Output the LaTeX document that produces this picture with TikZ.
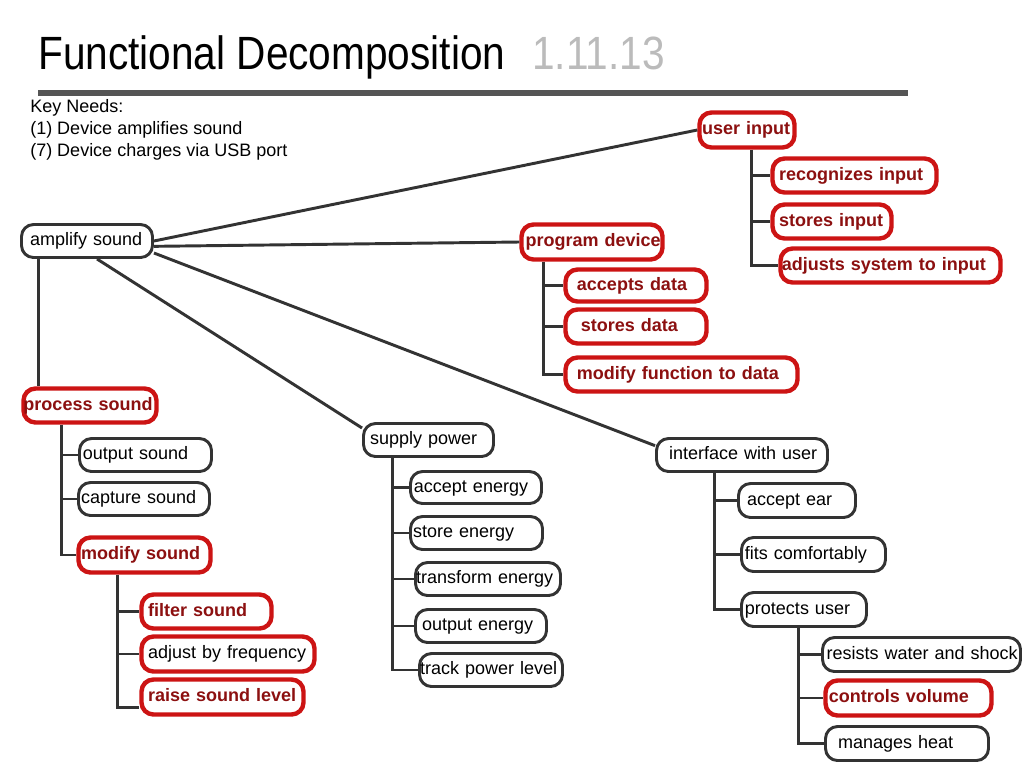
\documentclass[tikz,border=0pt]{standalone}
\usepackage{fontspec}
\usepackage{graphicx}
\setmainfont{Liberation Sans}
\usetikzlibrary{calc}

\definecolor{linegray}{HTML}{333333}
\definecolor{keyred}{HTML}{CC1414}
\definecolor{textred}{HTML}{8C1010}
\definecolor{bargray}{HTML}{555555}
\definecolor{vergray}{HTML}{BBBBBB}
\newcommand\fnfont{\fontsize{13.5}{16}\selectfont}
\hyphenpenalty=10000
\exhyphenpenalty=10000

\tikzset{
  fn/.style={draw=linegray, line width=2.2pt, rounded corners=9pt, fill=white,
    align=left, font=\fnfont, text height=10pt, text depth=3pt},
  key/.style={fn, draw=keyred, line width=3.3pt},
  keytext/.style={text=textred, font=\fnfont\bfseries},
  link/.style={draw=linegray, line width=2.2pt},
  needs/.style={anchor=base west, inner sep=0pt, font=\fnfont},
}

\begin{document}
\begin{tikzpicture}[x=0.75pt, y=-0.75pt]
\useasboundingbox (0,0) rectangle (1024,768);
% Title and bar
\node[anchor=base west, inner sep=0pt, font=\fontsize{35}{42}\selectfont] (title) at (38,69) {\scalebox{0.87}[1]{Functional Decomposition}};
\node[anchor=base west, inner sep=0pt, font=\fontsize{35}{42}\selectfont, text=vergray] (version) at (532,69) {\scalebox{0.87}[1]{1.11.13}};
\fill[bargray] (38,90) rectangle (908,96);
% Key needs
\node[needs] (key1) at (30,112) {Key Needs:};
\node[needs] (key2) at (30,134) {(1) Device amplifies sound};
\node[needs] (key3) at (30,156) {(7) Device charges via USB port};

% Root
\node[fn, minimum height=24.75pt, inner xsep=6.4pt, text width=85.45pt] (amp) at (87,241) {amplify~sound};

% User input branch
\node[key, keytext, minimum height=26.25pt, inner xsep=2pt, text width=67.25pt] (usr) at (747,130) {user~input};
\node[key, keytext, minimum height=25.5pt, inner xsep=4.9pt, text width=113.2pt] (rec) at (854.5,175.5) {recognizes~input};
\node[key, keytext, minimum height=25.5pt, inner xsep=4.9pt, text width=79.45pt] (sti) at (832,221.5) {stores~input};
\node[key, keytext, minimum height=25.5pt, inner xsep=1pt, text width=163pt] (adj) at (890.5,265.5) {adjusts~system~to~input};

% Program device branch
\node[key, keytext, minimum height=26.25pt, inner xsep=3pt, text width=99.75pt] (prg) at (592,242) {program~device};
\node[key, keytext, minimum height=24pt, inner xsep=8.6pt, text width=88.55pt] (acc) at (636,285.5) {accepts~data};
\node[key, keytext, minimum height=25.5pt, inner xsep=11.6pt, text width=82.55pt] (std) at (636,326.5) {stores~data};
\node[key, keytext, minimum height=25.5pt, inner xsep=8.6pt, text width=156.8pt] (mfd) at (681.5,374.5) {modify~function~to~data};

% Process sound branch
\node[key, keytext, minimum height=25.5pt, inner xsep=0pt, text width=99.75pt] (prc) at (90,405.5) {process~sound};
\node[fn, minimum height=24.75pt, inner xsep=2.6pt, text width=93.8pt] (ous) at (145.5,455) {output~sound};
\node[fn, minimum height=24.75pt, inner xsep=1.9pt, text width=94.45pt] (cap) at (144,499) {capture~sound};
\node[key, keytext, minimum height=26.25pt, inner xsep=1.9pt, text width=95.2pt] (mds) at (144.5,555) {modify~sound};
\node[key, keytext, minimum height=25.5pt, inner xsep=4.9pt, text width=87.7pt] (fil) at (206.5,611.5) {filter~sound};
\node[key, minimum height=26.25pt, inner xsep=4.9pt, text width=119.95pt] (abf) at (228,654) {adjust~by~frequency};
\node[key, keytext, minimum height=26.25pt, inner xsep=4.9pt, text width=111.7pt] (rsl) at (222.5,697) {raise~sound~level};

% Supply power branch
\node[fn, minimum height=24.75pt, inner xsep=4.9pt, text width=87.7pt] (sup) at (428.5,440) {supply~power};
\node[fn, minimum height=24pt, inner xsep=2.6pt, text width=93.05pt] (ace) at (476,487.5) {accept~energy};
\node[fn, minimum height=24.75pt, inner xsep=1.9pt, text width=95.2pt] (ste) at (476.5,533) {store~energy};
\node[fn, minimum height=24.75pt, inner xsep=0.5pt, text width=107.75pt] (tre) at (488,579) {transform~energy};
\node[fn, minimum height=24.75pt, inner xsep=4.9pt, text width=88.45pt] (oue) at (481,626) {output~energy};
\node[fn, minimum height=24.75pt, inner xsep=0.5pt, text width=106.25pt] (tpl) at (491,670) {track~power~level};

% Interface branch
\node[fn, minimum height=24.75pt, inner xsep=9.4pt, text width=109.45pt] (ifu) at (742,455) {interface~with~user};
\node[fn, minimum height=25.5pt, inner xsep=6.4pt, text width=74.95pt] (aer) at (797,500.5) {accept~ear};
\node[fn, minimum height=25.5pt, inner xsep=2.6pt, text width=102.8pt] (fit) at (813.5,554.5) {fits~comfortably};
\node[fn, minimum height=25.5pt, inner xsep=2.6pt, text width=88.55pt] (pru) at (804,609.5) {protects~user};
\node[fn, minimum height=25.5pt, inner xsep=3pt, text width=142.5pt] (rws) at (921.5,654.5) {resists~water~and~shock};
\node[key, keytext, minimum height=26.25pt, inner xsep=2.6pt, text width=119.3pt] (cvo) at (908.5,698) {controls~volume};
\node[fn, minimum height=25.5pt, inner xsep=9.4pt, text width=103.45pt] (mhe) at (907,743.5) {manages~heat};

% Links from the root
\draw[link] (amp.east) -- (usr.west);
\draw[link] ([yshift=-4pt]amp.east) -- (prg.west);
\draw[link] ([yshift=-9pt]amp.east) -- ([yshift=7pt]ifu.west);
\draw[link] ([xshift=7.5pt]amp.south) -- ([yshift=9pt]sup.west);
\coordinate (ampT) at ([xshift=13.5pt]amp.south west);
\draw[link] (ampT) -- (ampT |- prc.north);

% Trunks
\coordinate (usrT) at ([xshift=40.5pt]usr.south west);
\coordinate (prgT) at ([xshift=18pt]prg.south west);
\coordinate (prcT) at ([xshift=30pt]prc.south west);
\coordinate (mdsT) at ([xshift=30.75pt]mds.south west);
\coordinate (supT) at ([xshift=22.5pt]sup.south west);
\coordinate (ifuT) at ([xshift=44.25pt]ifu.south west);
\coordinate (pruT) at ([xshift=43.5pt]pru.south west);

\draw[link] (usrT) |- (adj.west);
\foreach \c in {rec,sti} \draw[link] (usrT |- \c.west) -- (\c.west);
\draw[link] (prgT) |- (mfd.west);
\foreach \c in {acc,std} \draw[link] (prgT |- \c.west) -- (\c.west);
\draw[link] (prcT) |- (mds.west);
\foreach \c in {ous,cap} \draw[link] (prcT |- \c.west) -- (\c.west);
\draw[link] (mdsT) |- ([yshift=-8pt]rsl.west);
\foreach \c in {fil,abf} \draw[link] (mdsT |- \c.west) -- (\c.west);
\draw[link] (supT) |- (tpl.west);
\foreach \c in {ace,ste,tre,oue} \draw[link] (supT |- \c.west) -- (\c.west);
\draw[link] (ifuT) |- (pru.west);
\foreach \c in {aer,fit} \draw[link] (ifuT |- \c.west) -- (\c.west);
\draw[link] (pruT) |- (mhe.west);
\foreach \c in {rws,cvo} \draw[link] (pruT |- \c.west) -- (\c.west);
\end{tikzpicture}
\end{document}
